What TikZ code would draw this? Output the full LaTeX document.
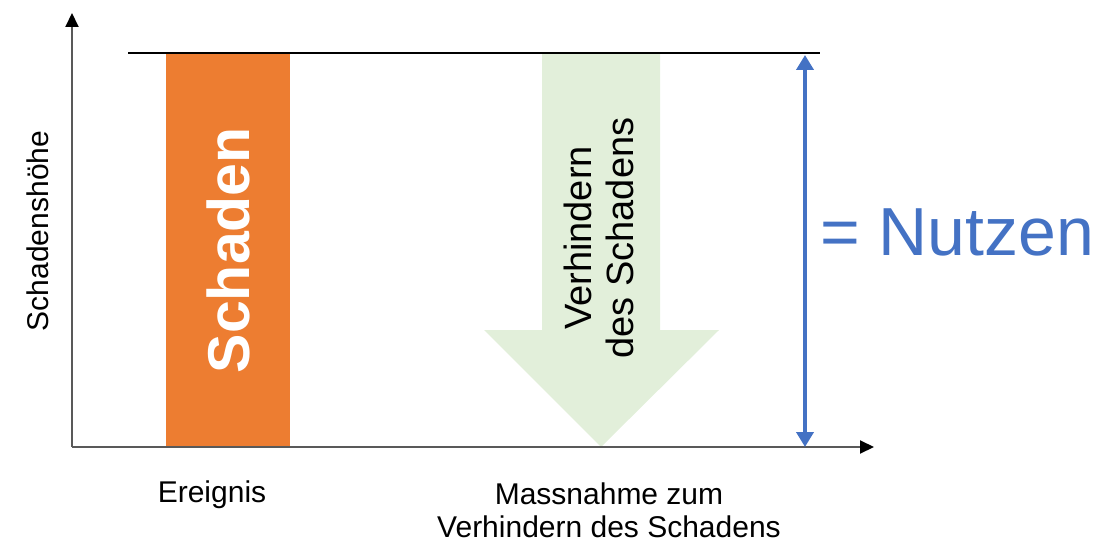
\documentclass[tikz,border=0pt]{standalone}
\usepackage{fontspec}
\setmainfont{Liberation Sans}
\usetikzlibrary{arrows.meta}
\definecolor{schorange}{HTML}{ED7D31}
\definecolor{schgreen}{HTML}{E2EFDA}
\definecolor{schblue}{HTML}{4472C4}
\definecolor{axisgray}{HTML}{595959}
\tikzset{
  axisline/.style={draw=axisgray, line width=2pt, -{Triangle[length=14pt,width=13pt,fill=black,color=black]}},
  lbl/.style={font=\fontsize{30}{33}\selectfont, align=center, inner sep=0pt},
}
\begin{document}
\begin{tikzpicture}[x=1pt,y=-1pt]
\useasboundingbox (0,0) rectangle (1103,543);
\coordinate (O) at (72,447);
\coordinate (Ytop) at (72,13);
\coordinate (Xend) at (874,447);
\coordinate (TL) at (128,53);
\coordinate (TR) at (820,53);
\coordinate (Btop) at (805,55);
\coordinate (Bbot) at (805,447);
% orange bar
\node[fill=schorange, minimum width=124pt, minimum height=394pt, inner sep=0pt, anchor=north west] (bar) at (166,53) {};
\node[rotate=90, text=white, font=\fontsize{59}{60}\selectfont\bfseries, inner sep=0pt] (schaden) at (bar.center) {Schaden};
% green arrow
\fill[schgreen] (542,53) -- (660,53) -- (660,330) -- (719,330) -- (601,447) -- (484,330) -- (542,330) -- cycle;
\node[rotate=90, font=\fontsize{38}{42}\selectfont, align=center, inner sep=0pt] (verh) at (599,238) {Verhindern\\des Schadens};
% top line
\draw[line width=1.2pt] (TL) -- (TR);
% axes
\draw[axisline] (O) -- (Ytop);
\draw[axisline] (O) -- (Xend);
% blue arrow
\draw[schblue, line width=4pt, {Triangle[length=15pt,width=17pt]}-{Triangle[length=15pt,width=17pt]}] (Btop) -- (Bbot);
\node[text=schblue, font=\fontsize{68}{70}\selectfont, inner sep=0pt, anchor=west] (nutzen) at (820,232) {= Nutzen};
% labels
\node[rotate=90, font=\fontsize{30}{33}\selectfont, inner sep=0pt] (yl) at (38,231) {Schadenshöhe};
\node[lbl] (ereignis) at (212,495) {Ereignis};
\node[lbl] (mass) at (609,510) {Massnahme zum\\Verhindern des Schadens};
\end{tikzpicture}
\end{document}
